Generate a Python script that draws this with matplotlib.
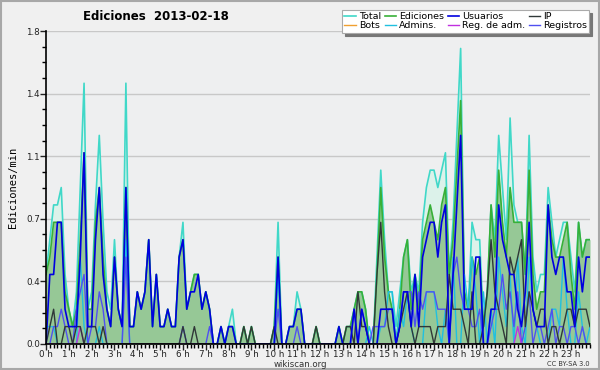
import numpy as np
import matplotlib
matplotlib.use("Agg")
import matplotlib.pyplot as plt
from matplotlib.patches import Rectangle
from matplotlib.ticker import FixedLocator, MultipleLocator

# edits per 10 minutes, one row per hour (6 slots), 00:00 .. 23:50
total = [4, 6, 8, 8, 9, 4,  2, 1, 3, 9, 15, 2,  3, 8, 12, 7, 3, 2,  6, 2, 1, 15, 1, 1,
         3, 2, 3, 6, 1, 4,  1, 1, 2, 1, 1, 5,  7, 2, 3, 4, 4, 2,  3, 2, 0, 0, 1, 0,
         1, 2, 0, 0, 1, 0,  1, 0, 0, 0, 0, 0,  1, 7, 0, 0, 1, 1,  3, 2, 0, 0, 0, 1,
         0, 0, 0, 0, 0, 1,  0, 1, 1, 2, 3, 3,  2, 0, 0, 5, 10, 6,  3, 3, 1, 3, 5, 6,
         3, 4, 3, 7, 9, 10,  10, 9, 10, 11, 4, 7,  12, 17, 3, 2, 7, 6,  6, 1, 3, 8, 6, 12,
         9, 6, 13, 8, 7, 7,  4, 12, 5, 3, 4, 4,  9, 7, 5, 6, 7, 7,  5, 3, 7, 5, 6, 6]
ediciones = [4, 5, 7, 7, 7, 3,  2, 1, 2, 6, 11, 2,  2, 7, 9, 5, 2, 1,  5, 2, 1, 9, 1, 1,
             3, 2, 3, 6, 1, 4,  1, 1, 2, 1, 1, 5,  6, 2, 3, 4, 4, 2,  3, 2, 0, 0, 1, 0,
             1, 1, 0, 0, 1, 0,  1, 0, 0, 0, 0, 0,  1, 5, 0, 0, 1, 1,  2, 2, 0, 0, 0, 1,
             0, 0, 0, 0, 0, 1,  0, 1, 1, 2, 3, 3,  2, 0, 0, 4, 9, 5,  3, 2, 0, 2, 5, 6,
             2, 4, 2, 6, 7, 8,  7, 6, 8, 9, 4, 6,  10, 14, 3, 2, 5, 4,  5, 1, 3, 8, 5, 10,
             7, 5, 9, 7, 7, 7,  4, 10, 4, 2, 3, 3,  8, 6, 5, 5, 6, 7,  4, 2, 7, 5, 6, 6]
usuarios = [0, 4, 4, 7, 7, 2,  1, 1, 1, 5, 11, 1,  1, 6, 9, 4, 2, 1,  5, 2, 1, 9, 1, 1,
            3, 2, 3, 6, 1, 4,  1, 1, 2, 1, 1, 5,  6, 2, 3, 3, 4, 2,  3, 2, 0, 0, 1, 0,
            1, 1, 0, 0, 0, 0,  0, 0, 0, 0, 0, 0,  0, 5, 0, 0, 1, 1,  2, 2, 0, 0, 0, 0,
            0, 0, 0, 0, 0, 1,  0, 0, 0, 2, 0, 2,  1, 0, 0, 0, 2, 2,  2, 2, 0, 1, 3, 3,
            1, 4, 1, 5, 6, 7,  7, 5, 7, 8, 0, 4,  8, 12, 2, 2, 2, 5,  5, 0, 0, 2, 2, 8,
            6, 5, 4, 4, 2, 1,  3, 7, 2, 1, 1, 1,  8, 5, 4, 5, 5, 3,  3, 1, 5, 3, 5, 5]
ip = [0, 1, 2, 0, 0, 1,  1, 0, 1, 1, 0, 1,  1, 1, 0, 1, 0, 0,  0, 0, 0, 0, 0, 0,
      0, 0, 0, 0, 0, 0,  0, 0, 0, 0, 0, 0,  1, 0, 0, 1, 0, 0,  0, 0, 0, 0, 0, 0,
      0, 0, 0, 0, 1, 0,  1, 0, 0, 0, 0, 0,  1, 0, 0, 0, 0, 0,  0, 0, 0, 0, 0, 1,
      0, 0, 0, 0, 0, 0,  0, 1, 1, 0, 3, 1,  1, 0, 0, 4, 7, 3,  1, 0, 0, 1, 2, 3,
      1, 0, 1, 1, 1, 1,  0, 1, 1, 1, 4, 2,  2, 2, 1, 0, 3, 0,  0, 1, 3, 6, 3, 2,
      1, 0, 5, 4, 5, 6,  1, 3, 2, 1, 2, 2,  0, 1, 1, 0, 1, 2,  2, 1, 2, 2, 2, 1]
admins = [1, 1, 1, 0, 0, 0,  0, 0, 0, 5, 1, 0,  0, 0, 1, 0, 0, 0,  0, 0, 0, 6, 0, 0,
          0, 0, 0, 0, 0, 0,  0, 0, 0, 0, 0, 0,  0, 0, 0, 0, 0, 0,  0, 0, 0, 0, 0, 0,
          0, 0, 0, 0, 0, 0,  0, 0, 0, 0, 0, 0,  0, 4, 0, 0, 0, 0,  0, 0, 0, 0, 0, 0,
          0, 0, 0, 0, 0, 0,  0, 0, 0, 0, 0, 0,  0, 1, 0, 0, 1, 1,  3, 3, 0, 2, 1, 3,
          1, 0, 0, 0, 3, 3,  3, 1, 0, 2, 0, 5,  0, 0, 4, 2, 5, 3,  0, 3, 0, 2, 0, 5,
          3, 1, 4, 0, 5, 1,  0, 5, 2, 1, 0, 0,  0, 2, 2, 1, 5, 2,  0, 0, 3, 1, 0, 1]
reg_adm = [0, 0, 0, 0, 0, 0,  0, 0, 0, 1, 0, 0,  0, 0, 0, 0, 0, 0,  0, 0, 0, 0, 0, 0,
           0, 0, 0, 0, 0, 0,  0, 0, 0, 0, 0, 0,  0, 0, 0, 0, 0, 0,  0, 0, 0, 0, 0, 0,
           0, 0, 0, 0, 0, 0,  0, 0, 0, 0, 0, 0,  0, 0, 0, 0, 0, 0,  0, 0, 0, 0, 0, 0,
           0, 0, 0, 0, 0, 0,  0, 0, 0, 0, 0, 0,  0, 0, 0, 0, 0, 0,  0, 0, 0, 0, 0, 0,
           0, 0, 0, 0, 0, 0,  0, 0, 0, 0, 0, 0,  0, 0, 0, 0, 0, 0,  0, 0, 0, 0, 0, 0,
           0, 0, 0, 0, 1, 0,  0, 0, 0, 0, 0, 0,  0, 0, 0, 0, 0, 0,  0, 0, 0, 0, 0, 0]
registros = [0, 0, 1, 1, 2, 1,  0, 0, 2, 3, 4, 0,  1, 1, 3, 2, 0, 0,  0, 0, 0, 5, 0, 0,
             0, 0, 0, 0, 0, 0,  0, 0, 0, 0, 0, 0,  1, 0, 0, 0, 0, 0,  0, 1, 0, 0, 0, 0,
             0, 0, 0, 0, 0, 0,  0, 0, 0, 0, 0, 0,  0, 2, 0, 0, 0, 0,  1, 0, 0, 0, 0, 0,
             0, 0, 0, 0, 0, 0,  0, 0, 0, 2, 0, 2,  1, 0, 1, 1, 1, 1,  2, 2, 0, 1, 3, 3,
             3, 1, 3, 2, 3, 3,  3, 2, 2, 2, 0, 4,  5, 3, 2, 2, 1, 1,  2, 0, 0, 1, 2, 2,
             4, 2, 3, 1, 3, 0,  1, 3, 0, 1, 1, 0,  1, 2, 0, 1, 1, 0,  1, 1, 0, 1, 0, 0]
bots = [0] * 144

hour_labels = ["%d h" % h for h in range(24)]
ytick_vals = [0, 0.36, 0.72, 1.08, 1.44, 1.8]
ytick_labels = ["0.0", "0.4", "0.7", "1.1", "1.4", "1.8"]

x = np.arange(144) / 6.0
per_min = lambda s: np.array(s) / 10.0

fig = plt.figure(figsize=(6, 3.7), dpi=100, facecolor="#f0f0f0")
fig.patches.append(Rectangle((0.002, 0.003), 0.996, 0.994, transform=fig.transFigure,
                             fill=False, edgecolor="#a8a8a8", lw=1.5))
ax = fig.add_axes([0.0767, 0.0703, 0.9066, 0.8457])
ax.set_facecolor("#eeeff0")

ax.fill_between(x, 0, per_min(total), color="#dcf2ea", lw=0)
ax.fill_between(x, 0, per_min(ediciones), color="#96c896", lw=0)
ax.plot(x, per_min(total), color="#40d8c8", lw=1.2, label="Total")
ax.plot(x, per_min(bots), color="#f0a030", lw=1.0, label="Bots")
ax.plot(x, per_min(ediciones), color="#38b038", lw=1.2, label="Ediciones")
ax.plot(x, per_min(admins), color="#20c0e0", lw=1.0, label="Admins.")
ax.plot(x, per_min(registros), color="#5050f0", lw=1.0, label="Registros")
ax.plot(x, per_min(reg_adm), color="#c030e0", lw=1.0, label="Reg. de adm.")
ax.plot(x, per_min(ip), color="#303838", lw=1.0, label="IP")
ax.plot(x, per_min(usuarios), color="#0000e0", lw=1.2, label="Usuarios")

ax.set_xlim(0, 143 / 6.0)
ax.set_ylim(0, 1.8)
ax.yaxis.set_major_locator(FixedLocator(ytick_vals))
ax.set_yticklabels(ytick_labels)
ax.yaxis.set_minor_locator(MultipleLocator(0.09))
ax.xaxis.set_major_locator(FixedLocator(range(24)))
ax.set_xticklabels(hour_labels)
ax.xaxis.set_minor_locator(MultipleLocator(1 / 6.0))
ax.grid(axis="y", color="#c8c8c8", lw=1)
ax.set_axisbelow(True)
ax.tick_params(axis="both", labelsize=6.3, colors="#222222", length=4, width=1, pad=0.5)
ax.tick_params(axis="both", which="minor", length=3, width=1)
for side in ["top", "right"]:
    ax.spines[side].set_visible(False)
for side in ["left", "bottom"]:
    ax.spines[side].set_linewidth(1.2)
ax.set_ylabel("Ediciones/min", fontsize=7.5, family="DejaVu Sans Mono", labelpad=6)

fig.text(0.26, 0.955, "Ediciones  2013-02-18", ha="center", va="center",
         fontsize=8.5, fontweight="bold")
fig.text(0.5, 0.014, "wikiscan.org", ha="center", va="center", fontsize=6.2, color="#333333")
fig.text(0.983, 0.016, "CC BY-SA 3.0", ha="right", va="center", fontsize=4.8, color="#333333")

handles, labels = ax.get_legend_handles_labels()
order = ["Total", "Bots", "Ediciones", "Admins.", "Usuarios", "Reg. de adm.", "IP", "Registros"]
hmap = dict(zip(labels, handles))
leg = fig.legend([hmap[k] for k in order], order, ncol=4, loc="upper right",
                 bbox_to_anchor=(0.985, 0.978), fontsize=6.8, frameon=True, fancybox=False,
                 shadow={"color": "#777777", "alpha": 1}, handlelength=1.2,
                 handletextpad=0.3, columnspacing=0.4,
                 labelspacing=0.0, borderpad=0.25, borderaxespad=0.2)
leg.get_frame().set_edgecolor("#aaaaaa")
leg.get_frame().set_linewidth(0.8)

fig.savefig("out.png", dpi=100, facecolor=fig.get_facecolor())
